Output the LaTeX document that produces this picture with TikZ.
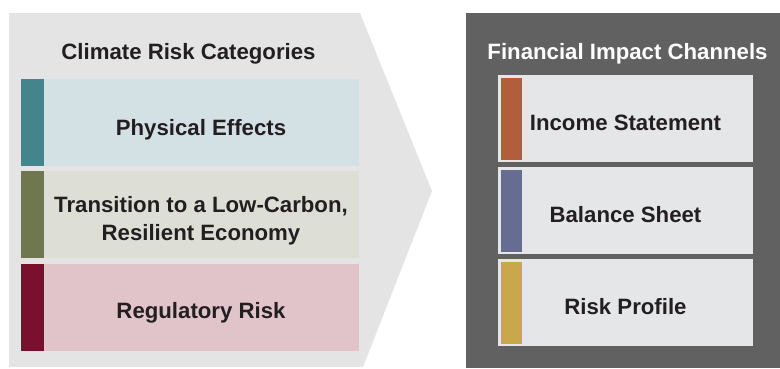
\documentclass[tikz,border=0pt]{standalone}
\usepackage{fontspec}
\setmainfont{Liberation Sans}
\definecolor{panel}{HTML}{E4E4E4}
\definecolor{darkpanel}{HTML}{616161}
\definecolor{ink}{HTML}{231F20}
\definecolor{physbar}{HTML}{44848C}
\definecolor{physfill}{HTML}{D3E1E5}
\definecolor{transbar}{HTML}{6F7750}
\definecolor{transfill}{HTML}{DDDED6}
\definecolor{regbar}{HTML}{7A0F2E}
\definecolor{regfill}{HTML}{E0C4CA}
\definecolor{incomebar}{HTML}{B35E3A}
\definecolor{balancebar}{HTML}{676C93}
\definecolor{profilebar}{HTML}{C9A74B}
\definecolor{channelfill}{HTML}{E5E6E8}
\begin{document}
\begin{tikzpicture}[x=1pt,y=-1pt,
        labeltext/.style={font=\bfseries\fontsize{22.2}{28}\selectfont, text=ink, align=center, inner sep=0pt, anchor=base}]
        \useasboundingbox (0,0) rectangle (780,368);
        \fill[panel] (9,13) -- (360,13) -- (432,191) -- (363,367) -- (9,367) -- cycle;
        \fill[darkpanel] (466,13) rectangle (780,368);
        \node[labeltext] (climate) at (188.5,59) {Climate Risk Categories};
        \node[labeltext, text=white] (channels) at (627.5,59) {Financial Impact Channels};
        \foreach \y/\by/\barc/\fillc/\nodename/\txt in {79/135/physbar/physfill/physical/Physical Effects,
                171/240.7/transbar/transfill/transition/{Transition to a Low-Carbon,\\Resilient Economy},
                264/318.3/regbar/regfill/regulatory/Regulatory Risk} {
            \fill[\fillc] (44,\y) rectangle (359,\y+87);
            \fill[\barc] (21,\y) rectangle (44,\y+87);
            \node[labeltext] (\nodename) at (201,\by) {\txt};
        }
        \foreach \y/\barc/\nodename/\txt in {75/incomebar/income/Income Statement,
                167/balancebar/balance/Balance Sheet,
                259/profilebar/profile/Risk Profile} {
            \fill[channelfill] (498,\y) rectangle (753,\y+87);
            \fill[\barc] (501,\y+2.5) rectangle (522,\y+84.5);
            \node[labeltext] (\nodename) at (625.5,\y+55.5) {\txt};
        }
    \end{tikzpicture}
\end{document}
